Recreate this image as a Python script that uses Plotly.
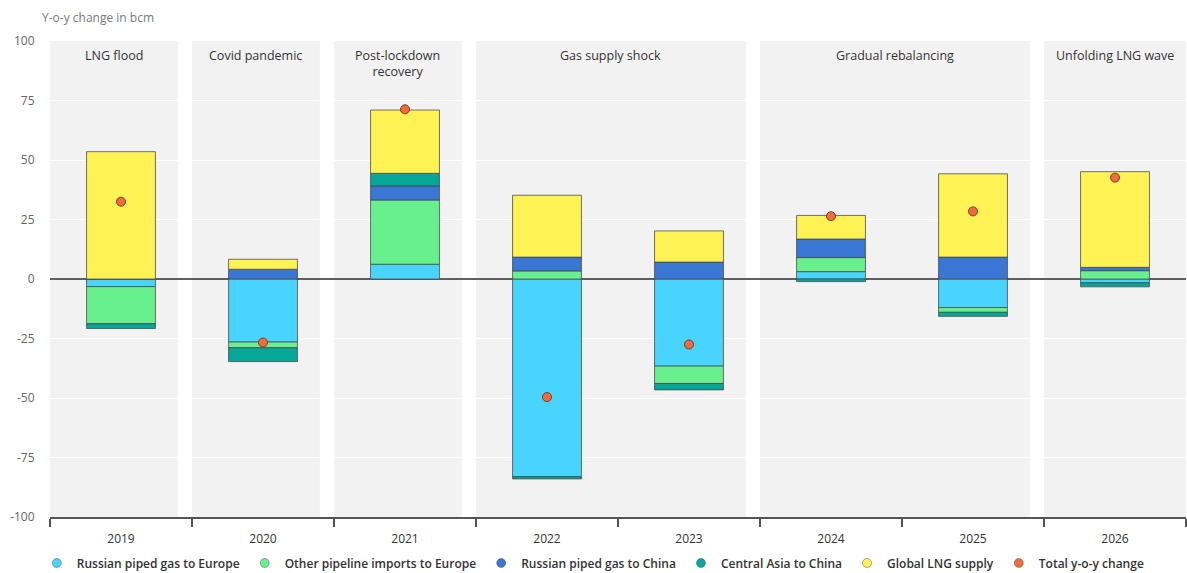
import plotly.graph_objects as go

# ---- data (bcm, year-on-year change) ----
years = ['2019', '2020', '2021', '2022', '2023', '2024', '2025', '2026']
rus_eu = [-3.2, -26.5, 6.2, -83.0, -36.6, 3.1, -12.0, -1.6]
other_eu = [-15.6, -2.4, 27.0, 3.4, -7.3, 5.9, -2.0, 3.5]
rus_cn = [0.0, 4.1, 5.9, 5.8, 7.1, 7.8, 9.2, 1.4]
ca_cn = [-2.0, -5.8, 5.3, -1.0, -2.7, -1.1, -1.7, -1.7]
lng = [53.5, 4.2, 26.6, 26.0, 13.1, 9.9, 35.0, 40.2]
total = [32.5, -26.7, 71.3, -49.6, -27.5, 26.4, 28.4, 42.6]

series_names = ['Russian piped gas to Europe', 'Other pipeline imports to Europe',
                'Russian piped gas to China', 'Central Asia to China', 'Global LNG supply']
series_vals = [rus_eu, other_eu, rus_cn, ca_cn, lng]
series_colors = ['#48d4fe', '#68f08e', '#3a76d4', '#06a699', '#fef254']
total_name = 'Total y-o-y change'
total_color = '#f26b3d'

# phases: label, first category index, last category index
phase_labels = ['LNG flood', 'Covid pandemic', 'Post-lockdown<br>recovery',
                'Gas supply shock', 'Gradual rebalancing', 'Unfolding LNG wave']
phase_start = [0, 1, 2, 3, 5, 7]
phase_end = [0, 1, 2, 4, 6, 7]

y_ticks = [-100, -75, -50, -25, 0, 25, 50, 75, 100]

fig = go.Figure()

for name, vals, col in zip(series_names, series_vals, series_colors):
    fig.add_trace(go.Bar(
        x=years, y=vals, name=name, width=0.485,
        marker=dict(color=col, line=dict(color='rgba(70,70,70,0.75)', width=1)),
        showlegend=False,
    ))

fig.add_trace(go.Scatter(
    x=years, y=total, mode='markers', name=total_name, showlegend=False,
    marker=dict(color=total_color, size=9, line=dict(color='#7a3a2a', width=1)),
))

# legend entries (circle swatches)
for name, col in zip(series_names + [total_name], series_colors + [total_color]):
    fig.add_trace(go.Scatter(
        x=[None], y=[None], mode='markers', name=name, showlegend=True,
        marker=dict(color=col, size=9, line=dict(color='rgba(90,90,90,0.5)', width=1)),
    ))

# phase background bands and labels
n = len(years)
for lab, s, e in zip(phase_labels, phase_start, phase_end):
    x0 = s - 0.5
    x1 = e + 0.5 if e == n - 1 else e + 0.4
    fig.add_shape(type='rect', xref='x', yref='y', x0=x0, x1=x1, y0=-100, y1=100,
                  fillcolor='#f2f2f2', line=dict(width=0), layer='below')
    fig.add_annotation(x=(x0 + x1) / 2, y=100, xref='x', yref='y', text=lab,
                       showarrow=False, yanchor='top', yshift=-4,
                       font=dict(size=12.5, color='#333333'), align='center')

fig.add_annotation(text='Y-o-y change in bcm', xref='paper', yref='paper',
                   x=-0.009, y=1.05, xanchor='left', yanchor='middle', showarrow=False,
                   font=dict(size=12, color='#7a7a7a'))

fig.update_layout(
    width=1187, height=573,
    margin=dict(l=50, r=1, t=41, b=56, autoexpand=False),
    barmode='relative',
    plot_bgcolor='white', paper_bgcolor='white',
    font=dict(family='Open Sans, Lato, sans-serif', color='#333333'),
    showlegend=True,
    legend=dict(orientation='h', xref='container', yref='container',
                x=0.031, xanchor='left', y=0.0175, yanchor='middle',
                font=dict(size=12, color='#333333', weight=600), itemwidth=30,
                bgcolor='rgba(0,0,0,0)', traceorder='normal'),
    xaxis=dict(type='category', range=[-0.5, 7.5], showline=True, linecolor='#555555',
               linewidth=1.5, ticks='outside', tickson='boundaries', ticklen=8,
               tickcolor='#555555', tickwidth=1.5, showgrid=False, ticklabelstandoff=10,
               automargin=False, tickfont=dict(size=12, color='#333333')),
    yaxis=dict(range=[-100, 100], tickvals=y_ticks,
               ticktext=[str(v) for v in y_ticks], automargin=False,
               showgrid=True, gridcolor='white', gridwidth=1,
               zeroline=True, zerolinecolor='#5f5f5f', zerolinewidth=1.5,
               ticks='outside', ticklen=12, tickcolor='rgba(0,0,0,0)',
               tickfont=dict(size=12, color='#666666'), showline=False),
)

fig.write_html('out.html')
